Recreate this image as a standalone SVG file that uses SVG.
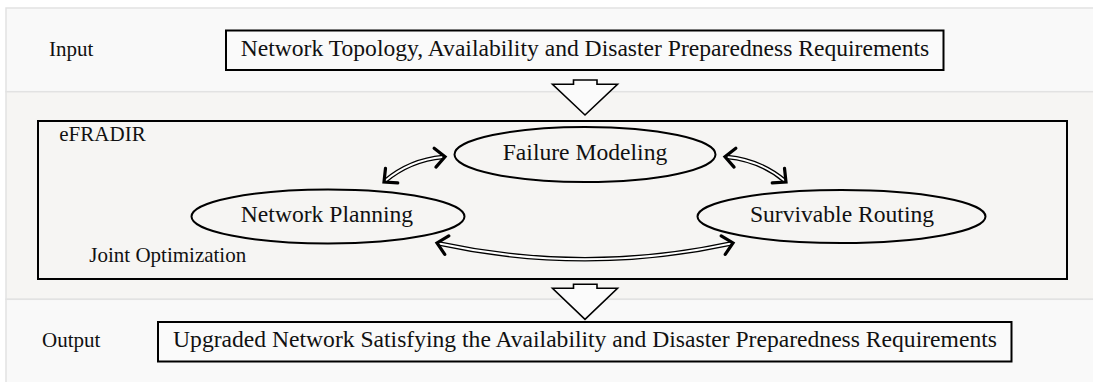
<svg xmlns="http://www.w3.org/2000/svg" width="1093" height="382" viewBox="0 0 1093 382">
  <style>
    .band-light { fill: #f9f9f9; stroke: #e2e2e2; stroke-width: 1.5; }
    .band-mid { fill: #f6f5f3; stroke: #e2e2e2; stroke-width: 1.5; }
    .box { fill: #fafafa; stroke: #000; stroke-width: 2; }
    .frame { fill: #f6f5f3; stroke: #000; stroke-width: 2; }
    .node { fill: none; stroke: #000; stroke-width: 2; }
    .big { font-family: "Liberation Serif", "Times New Roman", serif; font-size: 23.6px; fill: #111; }
    .small { font-family: "Liberation Serif", "Times New Roman", serif; font-size: 21px; fill: #111; }
    .flow { fill: #fbfbfb; stroke: #000; stroke-width: 1.6; stroke-linejoin: miter; }
    .dbl-outer { fill: none; stroke: #000; stroke-width: 4.6; }
    .dbl-inner { fill: none; stroke: #fff; stroke-width: 2; }
    .heads { fill: none; stroke: none; }
  </style>
  <defs>
    <marker id="chev" markerUnits="userSpaceOnUse" orient="auto-start-reverse" refX="0" refY="0" markerWidth="30" markerHeight="30" viewBox="-15 -15 30 30" overflow="visible">
      <path d="M -10 -9.5 L 0 0 L -10 9.5" fill="none" stroke="#000" stroke-width="3.2" stroke-linecap="round" stroke-linejoin="miter"/>
    </marker>
  </defs>

  <rect width="1093" height="382" fill="#ffffff"/>

  <g id="bands">
    <rect class="band-light" x="6" y="8" width="1095" height="83.7"/>
    <rect class="band-mid" x="6" y="91.7" width="1095" height="207.6"/>
    <rect class="band-light" x="6" y="299.3" width="1095" height="90"/>
  </g>

  <g id="input">
    <text class="small" x="49" y="56">Input</text>
    <rect class="box" x="226" y="30.5" width="717.5" height="39.5"/>
    <text class="big" x="585" y="56" text-anchor="middle">Network Topology, Availability and Disaster Preparedness Requirements</text>
  </g>

  <g id="efradir">
    <rect class="frame" x="38" y="121" width="1029" height="158"/>
    <text class="small" x="59.3" y="141">eFRADIR</text>
    <text class="small" x="89.3" y="262">Joint Optimization</text>
  </g>

  <g id="failure-modeling">
    <ellipse class="node" cx="585" cy="154.5" rx="130.5" ry="27.5"/>
    <text class="big" x="585" y="160" text-anchor="middle">Failure Modeling</text>
  </g>

  <g id="network-planning">
    <ellipse class="node" cx="328" cy="216.5" rx="136.5" ry="27"/>
    <text class="big" x="327" y="222" text-anchor="middle">Network Planning</text>
  </g>

  <g id="survivable-routing">
    <ellipse class="node" cx="841.5" cy="216.5" rx="144" ry="26.5"/>
    <text class="big" x="842" y="222" text-anchor="middle">Survivable Routing</text>
  </g>

  <g id="output">
    <text class="small" x="42" y="347">Output</text>
    <rect class="box" x="158" y="322" width="853.5" height="39.5"/>
    <text class="big" x="585" y="347" text-anchor="middle">Upgraded Network Satisfying the Availability and Disaster Preparedness Requirements</text>
  </g>

  <g id="connectors">
    <path class="flow" d="M 573.5 80 L 597 80 L 597 84.3 L 617.5 84.3 L 585 115 L 552.5 84.3 L 573.5 84.3 Z"/>
    <path class="flow" d="M 573.5 284.3 L 597 284.3 L 597 288.3 L 617.5 288.3 L 585 319.3 L 552.5 288.3 L 573.5 288.3 Z"/>

    <path class="dbl-outer" d="M 385 181 Q 410 160 443 157"/>
    <path class="dbl-inner" d="M 385 181 Q 410 160 443 157"/>
    <path class="heads" d="M 384 182 Q 410 160 445 156.7" marker-start="url(#chev)" marker-end="url(#chev)"/>

    <path class="dbl-outer" d="M 727 157 Q 760 160 785 181"/>
    <path class="dbl-inner" d="M 727 157 Q 760 160 785 181"/>
    <path class="heads" d="M 725 156.7 Q 760 160 786 182" marker-start="url(#chev)" marker-end="url(#chev)"/>

    <path class="dbl-outer" d="M 439 243.5 Q 585 275 731 243.5"/>
    <path class="dbl-inner" d="M 439 243.5 Q 585 275 731 243.5"/>
    <path class="heads" d="M 437 243 Q 585 275 733 243" marker-start="url(#chev)" marker-end="url(#chev)"/>
  </g>
</svg>
